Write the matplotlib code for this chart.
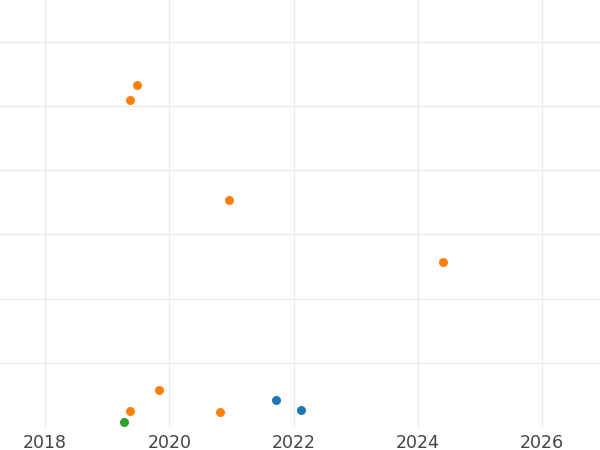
import matplotlib
matplotlib.use('Agg')
import matplotlib.pyplot as plt

# points per group (year, value)
orange_x = [2019.48, 2019.37, 2020.96, 2024.40, 2019.83, 2019.37, 2020.81]
orange_y = [53.3, 50.9, 35.3, 25.7, 5.8, 2.5, 2.4]
blue_x = [2021.71, 2022.12]
blue_y = [4.2, 2.7]
green_x = [2019.27]
green_y = [0.8]

xticks = [2018, 2020, 2022, 2024, 2026]
yticks = [10, 20, 30, 40, 50, 60]

fig = plt.figure(figsize=(6, 4.5), dpi=100)
ax = fig.add_axes([0, 23 / 450, 1, 427 / 450])

ax.scatter(orange_x, orange_y, s=42, color='#ff7f0e', linewidths=0, zorder=3)
ax.scatter(blue_x, blue_y, s=42, color='#1f77b4', linewidths=0, zorder=3)
ax.scatter(green_x, green_y, s=42, color='#2ca02c', linewidths=0, zorder=3)

ax.set_xlim(2017.276, 2026.93)
ax.set_ylim(0, 66.5)
ax.set_xticks(xticks)
ax.set_xticklabels([str(t) for t in xticks])
ax.set_yticks(yticks)
ax.set_yticklabels([])
ax.tick_params(axis='both', length=0, labelsize=12.5, labelcolor='#444444', pad=5)
ax.grid(True, color='#ebebeb', linewidth=1.0)
ax.set_axisbelow(True)
for s in ax.spines.values():
    s.set_visible(False)

fig.savefig('out.png', dpi=100)
